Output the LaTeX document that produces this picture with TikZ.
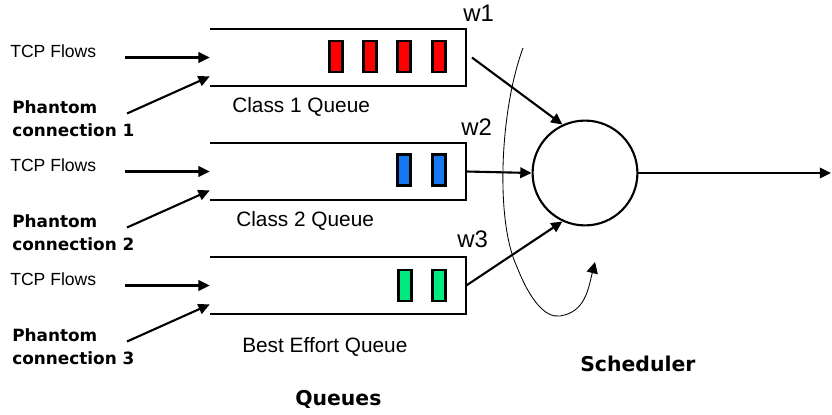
\documentclass[tikz,border=0pt]{standalone}
\usepackage{fontspec}
\setmainfont{Liberation Sans}
\newfontfamily\dejavu{DejaVu Sans}
\usetikzlibrary{arrows.meta}
\definecolor{pktred}{RGB}{255,0,0}
\definecolor{pktblue}{RGB}{20,120,240}
\definecolor{pktgreen}{RGB}{0,235,125}
\begin{document}
\begin{tikzpicture}[x=0.025cm,y=-0.025cm,
    flow/.style={line width=1.5pt,-{Triangle[length=8pt,width=7.5pt]}},
    qline/.style={line width=1.5pt},
    queuebox/.style={minimum width=6.4cm,minimum height=1.425cm,inner sep=0},
    packet/.style={draw,line width=1.6pt,minimum width=0.32cm,minimum height=0.78cm,inner sep=0},
    flowlabel/.style={font=\fontsize{12.5}{15}\selectfont,inner sep=0,anchor=west},
    phantomlabel/.style={font=\dejavu\bfseries\fontsize{12}{16.3}\selectfont,align=left,inner sep=0,anchor=north west},
    qlabel/.style={font=\fontsize{14.8}{17}\selectfont,inner sep=0,anchor=base west},
    wlabel/.style={font=\fontsize{17}{20}\selectfont,inner sep=0,anchor=base west},
    title/.style={font=\dejavu\bfseries\fontsize{14.5}{17}\selectfont,inner sep=0,anchor=base west}]
  \useasboundingbox (0,0) rectangle (832,414);

  \foreach \n/\y in {1/57.5,2/171.5,3/285.5} {
    \node[queuebox] (q\n) at (338,\y) {};
    \draw[qline] (q\n.north west) -- (q\n.north east) -- (q\n.south east) -- (q\n.south west);
    \node[flowlabel] (tcp\n) at (10,\y-6.5) {TCP Flows};
    \node[phantomlabel] (ph\n) at (12,\y+42.5) {Phantom\\connection \n};
    \coordinate (tcpstart\n) at (125,\y);
    \coordinate (phstart\n) at (127,\y+56);
    \draw[flow] (tcpstart\n) -- (q\n.west);
    \draw[flow] (phstart\n) -- ([yshift=7pt]q\n.south west);
  }

  \foreach \x [count=\i] in {336,370,404,439}
    \node[packet,fill=pktred] (r\i) at (\x,56.5) {};
  \foreach \x [count=\i] in {404,439}
    \node[packet,fill=pktblue] (b\i) at (\x,170) {};
  \foreach \x [count=\i] in {405,439}
    \node[packet,fill=pktgreen] (g\i) at (\x,285.5) {};

  \node[qlabel] (cl1) at (232,112) {Class 1 Queue};
  \node[qlabel] (cl2) at (236,226) {Class 2 Queue};
  \node[qlabel] (cl3) at (242,352) {Best Effort Queue};

  \node[draw,circle,line width=1.5pt,minimum size=2.62cm,inner sep=0] (sched) at (585,173) {};
  \coordinate (out) at (831,173);

  \draw[flow] ([xshift=4pt]q1.east) -- (sched.115);
  \draw[flow] (q2.east) -- (sched.west);
  \draw[flow] (q3.east) -- (sched.-115);
  \draw[flow] (sched.east) -- (out);

  \node[wlabel] (w1) at (463,21) {w1};
  \node[wlabel] (w2) at (461,135) {w2};
  \node[wlabel] (w3) at (457,247) {w3};

  \draw[line width=0.6pt,-{Triangle[length=8pt,width=8pt]}] (523,48) .. controls (500,110) and (495,220) .. (517,267) .. controls (530,300) and (545,318) .. (560,316) .. controls (585,312) and (588,290) .. (595,262);

  \node[title] (queues) at (295,405) {Queues};
  \node[title] (schedlabel) at (580,371) {Scheduler};
\end{tikzpicture}
\end{document}
